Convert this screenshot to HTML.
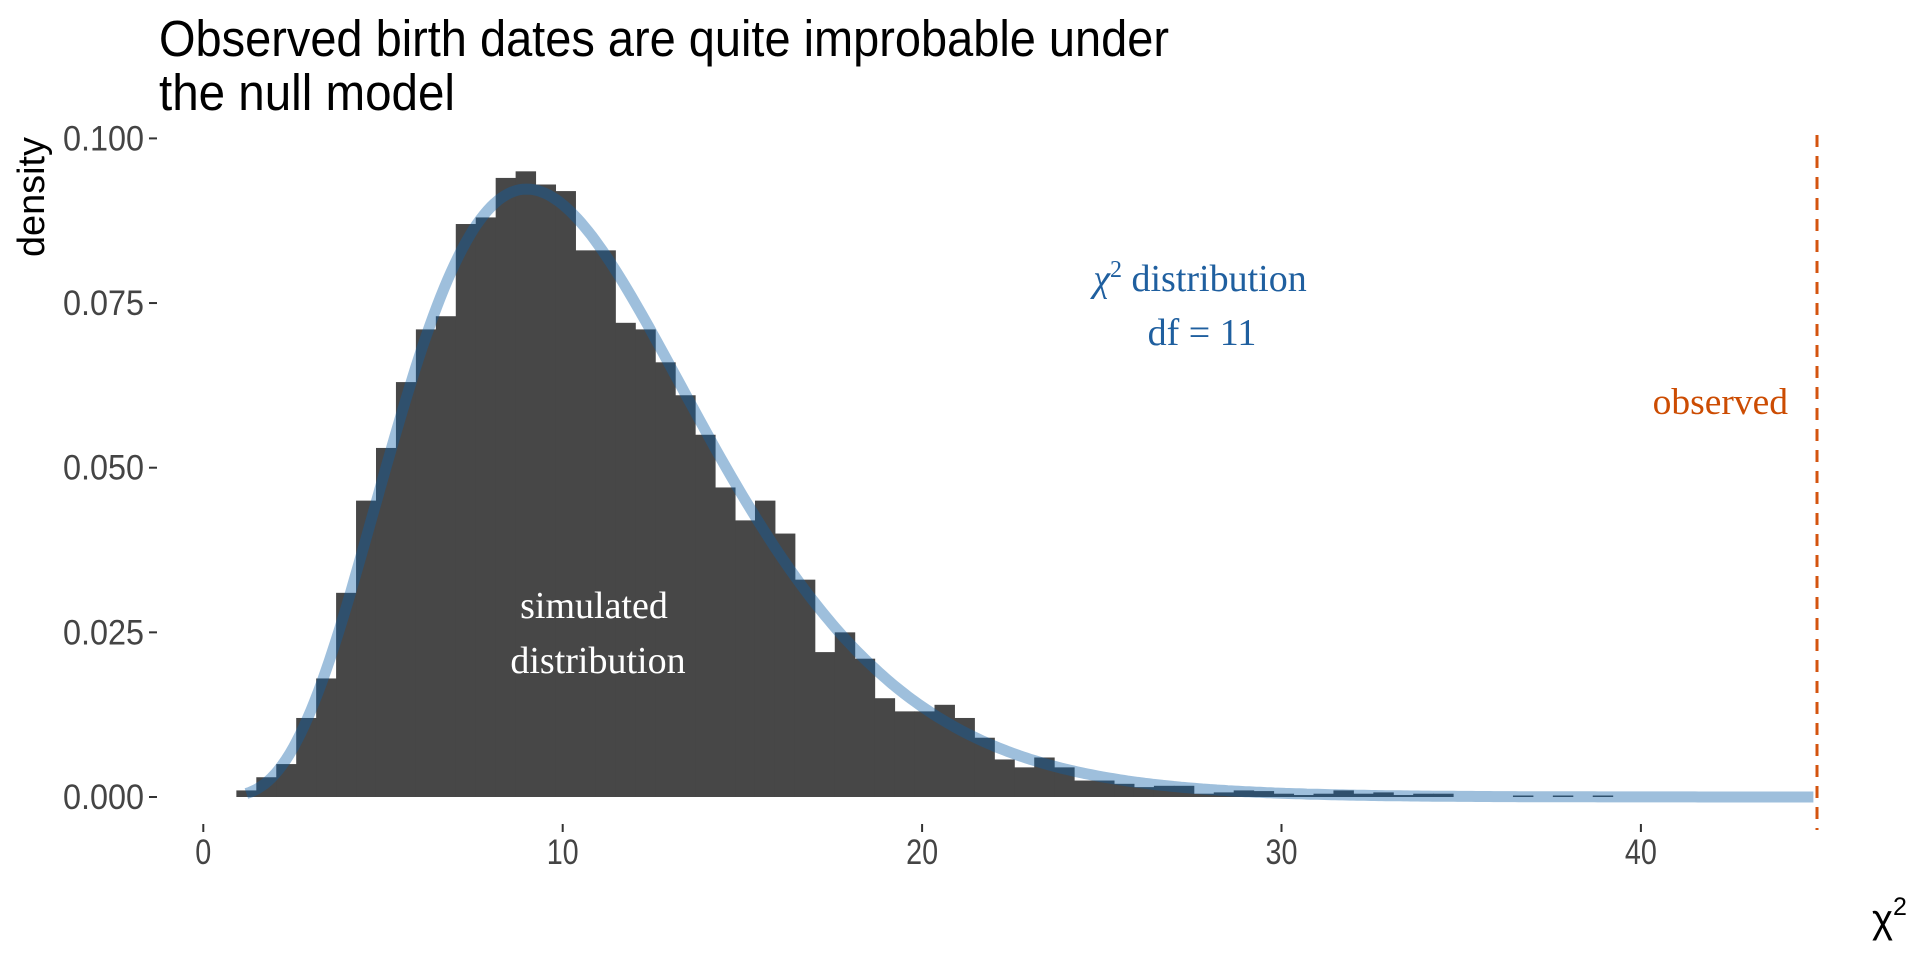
<!DOCTYPE html>
<html><head><meta charset="utf-8"><style>
html,body{margin:0;padding:0;background:#fff;}
svg{display:block;}
.cond{font-family:"Liberation Sans Narrow","Liberation Sans",sans-serif;}
.serif{font-family:"Liberation Serif",serif;}
</style></head><body>
<svg id="chart" width="1920" height="960" viewBox="0 0 1920 960">
<g class="cond">
<text x="159" y="56" font-size="51" fill="#000" textLength="1010" lengthAdjust="spacingAndGlyphs">Observed birth dates are quite improbable under</text>
<text x="159" y="110" font-size="51" fill="#000" textLength="296" lengthAdjust="spacingAndGlyphs">the null model</text>
</g>
<text class="cond" transform="translate(44,197) rotate(-90)" font-size="38" text-anchor="middle" fill="#000" textLength="120" lengthAdjust="spacingAndGlyphs">density</text>
<g id="yaxis"></g>
<g id="xaxis"></g>
<g id="bars"></g>
<path id="curve" fill="none" stroke="rgba(13,94,167,0.4)" stroke-width="11" stroke-linejoin="round"/>
<line id="obs" stroke="#d4540f" stroke-width="3" stroke-dasharray="12,9"/>
<text class="serif" x="1200" y="291" font-size="38" fill="#1f5f9f" text-anchor="middle"><tspan font-style="italic">χ</tspan><tspan dy="-14" font-size="24">2</tspan><tspan dy="14"> distribution</tspan></text>
<text class="serif" x="1202" y="345" font-size="38" fill="#1f5f9f" text-anchor="middle">df = 11</text>
<text class="serif" x="1788" y="414" font-size="37.5" fill="#cc4c02" text-anchor="end">observed</text>
<text class="serif" x="594" y="618" font-size="38" fill="#fff" text-anchor="middle">simulated</text>
<text class="serif" x="598" y="673" font-size="38" fill="#fff" text-anchor="middle">distribution</text>
<text class="cond" x="1872" y="932" font-size="40" fill="#000">χ<tspan dy="-17" font-size="25">2</tspan></text>
</svg>
<script>
const binStart = 0.92;
const binWidth = 0.555;
const densities = [0.001,0.003,0.005,0.012,0.018,0.031,0.045,0.053,0.063,0.071,0.073,0.087,0.088,0.094,0.095,0.093,0.092,0.083,0.083,0.072,0.071,0.066,0.061,0.055,0.047,0.042,0.045,0.040,0.033,0.022,0.025,0.021,0.015,0.013,0.013,0.014,0.012,0.009,0.0057,0.0045,0.006,0.0045,0.0025,0.0025,0.002,0.0015,0.0017,0.0017,0.0005,0.0007,0.001,0.0009,0.0005,0.0003,0.0005,0.001,0.0005,0.0007,0.0003,0.0005,0.0005,0,0,0,0.0002,0,0.0002,0,0.0002];
const df = [11];
const observed = [44.9];
const xTicks = [0,10,20,30,40];
const yTicks = [0,0.025,0.05,0.075,0.1];
const yTickLabels = ["0.000","0.025","0.050","0.075","0.100"];

const NS = "http://www.w3.org/2000/svg";
const xs = v => 203.3 + v * 35.94;
const ys = v => 797 - v * 6586;
function mk(tag, attrs, parent){const e=document.createElementNS(NS,tag);for(const k in attrs)e.setAttribute(k,attrs[k]);parent.appendChild(e);return e;}

const yax = document.getElementById('yaxis');
yTicks.forEach((t,i)=>{
  const tk = mk('line',{x1:149,x2:157,y1:ys(t),y2:ys(t),stroke:'#333','stroke-width':2},yax);
  
  
  const lb = mk('text',{x:144,y:ys(t)+12,'font-size':35,fill:'#444','text-anchor':'end','class':'cond',textLength:81,lengthAdjust:'spacingAndGlyphs'},yax);
  lb.textContent = yTickLabels[i];
  
  
});
const xax = document.getElementById('xaxis');
xTicks.forEach(t=>{
  const tk = mk('line',{x1:xs(t),x2:xs(t),y1:824,y2:832,stroke:'#333','stroke-width':2},xax);
  
  
  const s = String(t);
  const lb = mk('text',{x:xs(t),y:864,'font-size':35,fill:'#444','text-anchor':'middle','class':'cond',textLength:s.length*16,lengthAdjust:'spacingAndGlyphs'},xax);
  lb.textContent = s;
  
  
});

const bars = document.getElementById('bars');
densities.forEach((d,i)=>{
  if(d<=0) return;
  const x0 = xs(binStart + i*binWidth), x1 = xs(binStart + (i+1)*binWidth);
  const h = Math.max(ys(0)-ys(d), 1.5);
  const r = mk('rect',{x:x0,y:ys(0)-h,width:x1-x0+0.5,height:h,fill:'#474747'},bars);
  
  
});

function lgamma(z){const g=7,c=[0.99999999999980993,676.5203681218851,-1259.1392167224028,771.32342877765313,-176.61502916214059,12.507343278686905,-0.13857109526572012,9.9843695780195716e-6,1.5056327351493116e-7];z-=1;let x=c[0];for(let i=1;i<g+2;i++)x+=c[i]/(z+i);const t=z+g+0.5;return 0.5*Math.log(2*Math.PI)+(z+0.5)*Math.log(t)-t+Math.log(x);}
const k = df[0];
function pdf(x){return Math.exp((k/2-1)*Math.log(x)-x/2-(k/2)*Math.log(2)-lgamma(k/2));}
let d = "";
for(let x=1.2; x<=observed[0]; x+=0.1){d += (d?"L":"M") + xs(x).toFixed(1) + "," + ys(pdf(x)).toFixed(1);}
document.getElementById('curve').setAttribute('d', d);

const ob = document.getElementById('obs');
ob.setAttribute('x1', xs(observed[0])); ob.setAttribute('x2', xs(observed[0]));
ob.setAttribute('y1', 135); ob.setAttribute('y2', 830);
</script>
</body></html>
